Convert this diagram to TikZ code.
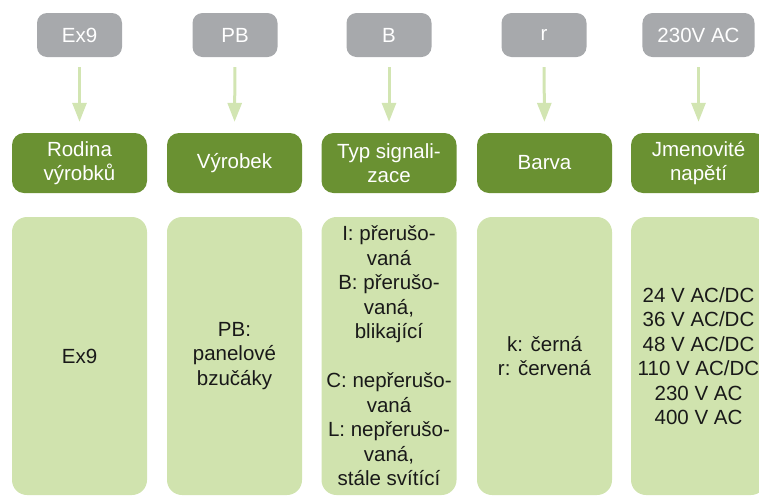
\documentclass[tikz,border=0pt]{standalone}
\usepackage{fontspec}
\setmainfont{Liberation Sans}
\usetikzlibrary{arrows.meta}
\definecolor{boxgray}{HTML}{A7A9AC}
\definecolor{darkgr}{HTML}{6A9132}
\definecolor{lightgr}{HTML}{D0E3AE}
\definecolor{arrowgr}{HTML}{D2E5B2}
\tikzset{
  txt/.style={font=\fontsize{20.5}{24.5}\selectfont, align=center},
  codebox/.style={txt, fill=boxgray, text=white, rounded corners=10pt, minimum width=85pt, minimum height=44pt, inner xsep=15pt, inner ysep=0pt},
  headbox/.style={txt, fill=darkgr, text=white, rounded corners=12pt, minimum width=135pt, minimum height=60pt, inner sep=0pt},
  bodybox/.style={txt, fill=lightgr, text=black!90, rounded corners=15pt, minimum width=135pt, minimum height=278pt, inner sep=0pt},
  link/.style={draw=arrowgr, line width=3pt, -{Triangle[width=14pt,length=19pt]}, shorten <=10pt, shorten >=11pt}
}
\begin{document}
\begin{tikzpicture}[x=1pt,y=-1pt]
\useasboundingbox (0,0) rectangle (759,496);
% codes
\node[codebox] (g1) at (79.5,35) {Ex9};
\node[codebox] (g2) at (235,35) {PB};
\node[codebox] (g3) at (389,35) {B};
\node[codebox] (g4) at (544,35) {r};
\node[codebox] (g5) at (698.5,35) {230V AC};
% headers
\node[headbox] (h1) at (79.5,163) {Rodina\\výrobků};
\node[headbox] (h2) at (234.5,163) {Výrobek};
\node[headbox] (h3) at (389,163) {Typ signali-\\zace};
\node[headbox] (h4) at (544.5,163) {Barva};
\node[headbox] (h5) at (698.5,163) {Jmenovité\\napětí};
% bodies
\node[bodybox] (b1) at (79.5,356) {Ex9};
\node[bodybox] (b2) at (234.5,356) {PB:\\panelové\\bzučáky};
\node[bodybox] (b3) at (389,356) {I: přerušo-\\vaná\\B: přerušo-\\vaná,\\blikající\\[24.5pt]C: nepřerušo-\\vaná\\L: nepřerušo-\\vaná,\\stále svítící};
\node[bodybox] (b4) at (544.5,356) {k: černá\\r: červená};
\node[bodybox] (b5) at (698.5,356) {24 V AC/DC\\36 V AC/DC\\48 V AC/DC\\110 V AC/DC\\230 V AC\\400 V AC};
% arrows
\foreach \i in {1,...,5} {
  \draw[link] (g\i.south) -- (h\i.north);
}
\end{tikzpicture}
\end{document}
